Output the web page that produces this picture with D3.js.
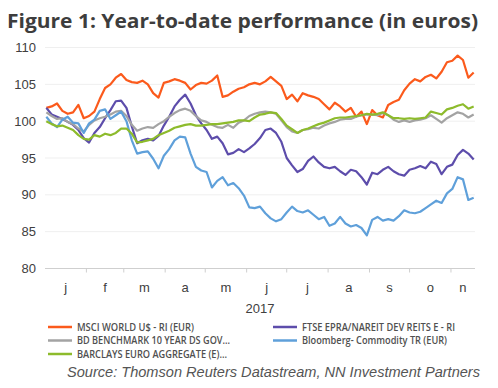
<!DOCTYPE html>
<html>
<head>
<meta charset="utf-8">
<script src="https://cdn.jsdelivr.net/npm/d3@7"></script>
<style>
  body { margin: 0; background: #fff; }
  svg { display: block; }
</style>
</head>
<body>
<svg width="498" height="388"></svg>
<script>
// Values, one sample every 4 days starting 2 Jan 2017
var msci = [101.8, 102.0, 102.4, 101.4, 101.0, 101.2, 102.2, 100.4, 100.7, 101.3,
  103.0, 104.5, 105.0, 105.9, 106.4, 105.6, 105.3, 105.2, 105.5, 105.0,
  103.8, 103.2, 105.2, 105.4, 105.7, 105.5, 105.2, 104.3, 104.9, 105.2,
  105.1, 105.5, 106.2, 103.3, 103.5, 104.0, 104.4, 104.6, 105.0, 105.2,
  105.0, 105.4, 106.0, 105.4, 104.8, 103.0, 103.6, 102.7, 103.8, 103.5,
  103.3, 103.0, 102.3, 101.6, 102.5, 102.0, 101.3, 101.8, 100.6, 101.3,
  99.6, 101.5, 100.8, 100.5, 102.2, 102.6, 102.9, 104.2, 105.1, 105.7,
  105.4, 106.0, 106.3, 105.8, 106.7, 108.0, 108.2, 108.9, 108.3, 105.9, 106.6];

var ftse = [101.8, 100.9, 100.6, 100.3, 99.9, 99.5, 98.8, 97.7, 97.1, 98.4,
  99.2, 100.4, 101.5, 102.7, 102.8, 101.8, 99.3, 97.0, 97.4, 97.6,
  97.4, 98.0, 99.4, 100.6, 102.0, 102.9, 103.6, 102.4, 100.8, 99.7,
  98.8, 97.6, 97.9, 97.0, 95.5, 95.7, 96.2, 95.8, 96.3, 96.9,
  97.7, 98.8, 99.0, 98.4, 97.2, 95.0, 94.0, 93.1, 93.5, 94.6,
  95.2, 94.4, 93.8, 93.6, 93.8, 93.2, 92.7, 93.4, 93.2, 92.4,
  91.4, 93.0, 92.8, 93.4, 93.8, 93.2, 92.8, 92.6, 93.4, 93.6,
  93.9, 93.6, 94.5, 94.2, 92.8, 93.8, 94.1, 95.4, 96.1, 95.6, 94.8];

var bdGov = [101.2, 100.7, 100.3, 100.4, 99.9, 99.6, 99.0, 98.6, 99.5, 100.1,
  100.4, 100.6, 100.9, 101.3, 101.4, 100.7, 99.5, 98.7, 99.0, 99.2,
  99.1, 99.6, 100.0, 100.6, 101.1, 101.5, 101.7, 101.4, 100.7, 100.1,
  99.9, 99.5, 99.2, 99.1, 99.5, 99.1, 99.8, 100.1, 100.7, 101.0,
  101.2, 101.3, 101.2, 101.0, 100.1, 99.2, 98.6, 98.4, 98.8, 98.9,
  99.1, 99.0, 99.4, 99.7, 99.9, 100.2, 100.3, 100.3, 100.6, 100.8,
  100.9, 100.9, 100.8, 101.1, 100.8, 100.2, 99.9, 100.1, 99.9, 100.1,
  100.2, 100.4, 100.8, 100.3, 99.8, 100.4, 100.8, 101.2, 101.0, 100.5, 100.9];

var bloomberg = [100.6, 99.7, 99.2, 100.2, 100.6, 99.8, 99.7, 98.4, 99.7, 100.2,
  101.4, 101.6, 100.3, 100.8, 101.3, 100.0, 97.4, 95.6, 95.8, 95.9,
  94.9, 93.6, 95.3, 96.2, 97.4, 97.9, 97.8, 95.6, 93.8, 93.3,
  93.1, 91.0, 91.9, 92.4, 91.3, 91.6, 90.9, 89.9, 88.3, 88.2,
  88.4, 87.5, 86.8, 86.4, 86.7, 87.6, 88.4, 87.8, 87.6, 87.9,
  87.3, 86.7, 87.0, 85.8, 86.1, 87.0, 86.1, 85.7, 85.9, 85.5,
  84.5, 86.6, 87.0, 86.5, 86.7, 86.5, 87.1, 87.9, 87.6, 87.5,
  87.7, 88.2, 88.7, 89.2, 88.9, 90.2, 90.8, 92.4, 92.1, 89.3, 89.6];

var barclays = [100.0, 99.6, 99.3, 99.4, 99.1, 98.8, 98.1, 97.6, 97.5, 98.1,
  97.9, 98.3, 98.1, 98.4, 99.0, 99.0, 98.3, 97.1, 97.2, 97.4,
  97.6, 98.1, 98.4, 98.7, 99.1, 99.3, 99.5, 99.6, 99.4, 99.4,
  99.5, 99.6, 99.6, 99.7, 99.8, 99.9, 100.1, 100.1, 100.0, 100.5,
  100.9, 101.0, 101.2, 101.1, 100.3, 99.4, 98.9, 98.4, 98.8, 99.0,
  99.3, 99.6, 99.8, 100.1, 100.4, 100.5, 100.5, 100.6, 100.7, 100.8,
  101.0, 100.9, 101.0, 101.2, 100.8, 100.4, 100.4, 100.3, 100.4, 100.3,
  100.4, 100.5, 101.3, 101.1, 100.9, 101.6, 101.8, 102.1, 102.3, 101.7, 102.0];

var seriesNames = ["MSCI WORLD U$ - RI (EUR)", "FTSE EPRA/NAREIT DEV REITS E - RI",
  "BD BENCHMARK 10 YEAR DS GOV...", "Bloomberg- Commodity TR (EUR)",
  "BARCLAYS EURO AGGREGATE (E)..."];
var seriesColors = ["#fb5a1c", "#5d4dab", "#a3a3a3", "#5fa0da", "#8dbb2c"];
var monthLabels = ["j", "f", "m", "a", "m", "j", "j", "a", "s", "o", "n"];
var yTicks = [80, 85, 90, 95, 100, 105, 110];

var dates = d3.range(msci.length).map(i => d3.timeDay.offset(new Date(2017, 0, 2), i * 4));
var allSeries = [msci, ftse, bdGov, bloomberg, barclays];

var svg = d3.select("svg");
var textCol = "#404040";

// Scales
var x = d3.scaleTime()
  .domain([new Date(2017, 0, 1), new Date(2017, 10, 19)])
  .range([45, 475]);
var y = d3.scaleLinear()
  .domain([80, 110])
  .range([268.5, 47.5]);

// Title
svg.append("text")
  .attr("x", 7)
  .attr("y", 28)
  .attr("textLength", 471)
  .attr("lengthAdjust", "spacingAndGlyphs")
  .style("font-family", "'Open Sans', sans-serif")
  .style("font-weight", 700)
  .style("font-size", "20px")
  .style("fill", "#3d3d3d")
  .text("Figure 1: Year-to-date performance (in euros)");

// Gridlines
svg.append("g")
  .selectAll("line")
  .data(yTicks.filter(d => d > 80))
  .enter().append("line")
  .attr("x1", 45).attr("x2", 475)
  .attr("y1", d => y(d)).attr("y2", d => y(d))
  .style("stroke", "#efefef")
  .style("stroke-width", 1);

// Y axis labels
svg.append("g")
  .selectAll("text")
  .data(yTicks)
  .enter().append("text")
  .attr("x", 36)
  .attr("y", d => y(d) + 4.5)
  .attr("text-anchor", "end")
  .style("font-family", "'Liberation Sans', Arial, sans-serif")
  .style("font-size", "13px")
  .style("fill", textCol)
  .text(d => d);

// X axis line + month ticks
var xAxis = svg.append("g");
xAxis.append("line")
  .attr("x1", 45).attr("x2", 475)
  .attr("y1", y(80)).attr("y2", y(80))
  .style("stroke", "#cfcfcf");

// Jan 1 .. Dec 1 (12 boundaries for 11 labelled months)
var monthStarts = d3.timeMonth.range(new Date(2017, 0, 1), new Date(2017, 11, 2));
xAxis.selectAll(".tick")
  .data(monthStarts.slice(1, 11))
  .enter().append("line")
  .attr("x1", d => x(d)).attr("x2", d => x(d))
  .attr("y1", y(80)).attr("y2", y(80) + 4)
  .style("stroke", "#cfcfcf");

xAxis.selectAll(".mlabel")
  .data(monthLabels)
  .enter().append("text")
  .attr("x", (d, i) => {
    var a = x(monthStarts[i]);
    var b = Math.min(x(monthStarts[i + 1]), 475);
    return (a + b) / 2;
  })
  .attr("y", 292)
  .attr("text-anchor", "middle")
  .style("font-family", "'Liberation Sans', Arial, sans-serif")
  .style("font-size", "13px")
  .style("fill", textCol)
  .text(d => d);

svg.append("text")
  .attr("x", 260)
  .attr("y", 313)
  .attr("text-anchor", "middle")
  .style("font-family", "'Liberation Sans', Arial, sans-serif")
  .style("font-size", "13px")
  .style("fill", textCol)
  .text("2017");

// Series lines
var line = d3.line()
  .x((d, i) => x(dates[i]))
  .y(d => y(d));

svg.append("g")
  .selectAll("path")
  .data(allSeries)
  .enter().append("path")
  .attr("d", line)
  .style("fill", "none")
  .style("stroke", (d, i) => seriesColors[i])
  .style("stroke-width", 2.2)
  .style("stroke-linejoin", "round");

// Legend (two columns, filled row by row)
var legendW = [117, 153, 153, 145, 150];
var legend = svg.append("g")
  .selectAll("g")
  .data(seriesNames)
  .enter().append("g")
  .attr("transform", (d, i) => "translate(" + (i % 2 ? 273 : 48) + "," + (327 + Math.floor(i / 2) * 13.5) + ")");

legend.append("line")
  .attr("x1", 0).attr("x2", 24)
  .style("stroke", (d, i) => seriesColors[i])
  .style("stroke-width", 2.5);

legend.append("text")
  .attr("x", 29)
  .attr("y", 3.5)
  .attr("textLength", (d, i) => legendW[i])
  .attr("lengthAdjust", "spacingAndGlyphs")
  .style("font-family", "'Open Sans', sans-serif")
  .style("font-weight", 600)
  .style("font-size", "10px")
  .style("fill", "#505050")
  .text(d => d);

// Source line
svg.append("text")
  .attr("x", 67)
  .attr("y", 377)
  .attr("textLength", 413)
  .attr("lengthAdjust", "spacingAndGlyphs")
  .style("font-family", "'Liberation Sans', Arial, sans-serif")
  .style("font-style", "italic")
  .style("font-size", "15px")
  .style("fill", "#555")
  .text("Source: Thomson Reuters Datastream, NN Investment Partners");
</script>
</body>
</html>
